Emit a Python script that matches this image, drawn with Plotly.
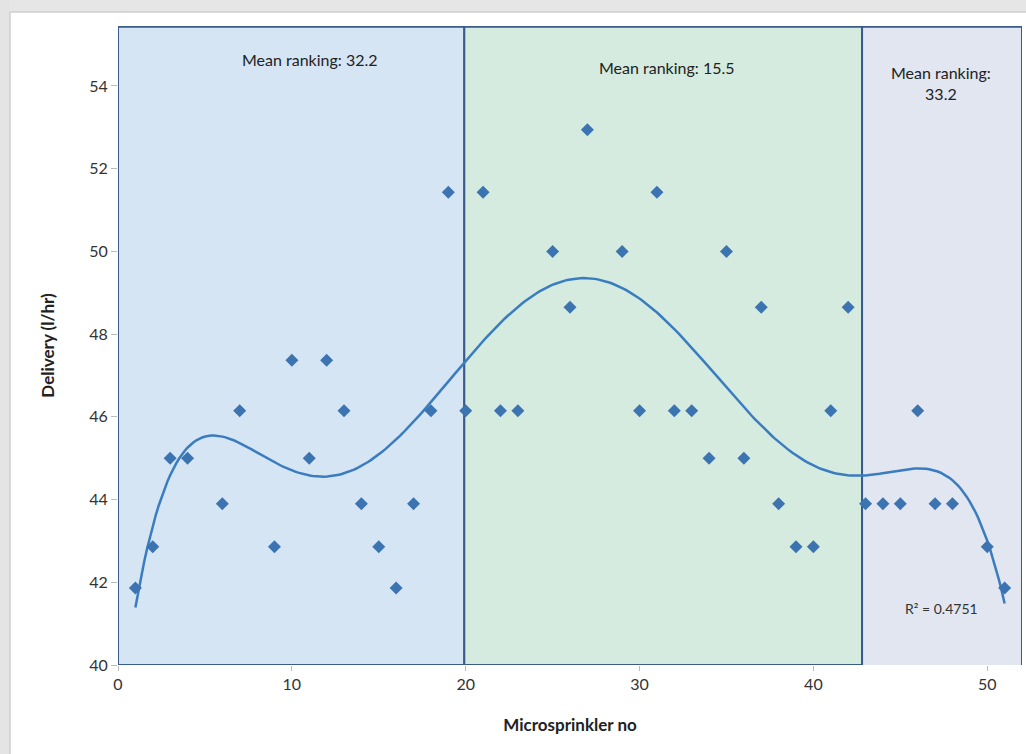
import numpy as np
import plotly.graph_objects as go

# Microsprinkler number and measured delivery (l/hr)
sprinkler_no = [1, 2, 3, 4, 6, 7, 9, 10, 11, 12, 13, 14, 15, 16, 17, 18, 19, 20,
                21, 22, 23, 25, 26, 27, 29, 30, 31, 32, 33, 34, 35, 36, 37, 38, 39,
                40, 41, 42, 43, 44, 45, 46, 47, 48, 50, 51]
delivery = [41.86, 42.86, 45.00, 45.00, 43.90, 46.15, 42.86, 47.37, 45.00, 47.37,
            46.15, 43.90, 42.86, 41.86, 43.90, 46.15, 51.43, 46.15, 51.43, 46.15,
            46.15, 50.00, 48.65, 52.94, 50.00, 46.15, 51.43, 46.15, 46.15, 45.00,
            50.00, 45.00, 48.65, 43.90, 42.86, 42.86, 46.15, 48.65, 43.90, 43.90,
            43.90, 46.15, 43.90, 43.90, 42.86, 41.86]

# Sprinkler groups along the lateral and their mean ranking
region_edges = [0, 19.92, 42.8, 52]
region_labels = ["Mean ranking: 32.2", "Mean ranking: 15.5", "Mean ranking:<br>33.2"]
r_squared_text = "R² = 0.4751"

x_ticks = [0, 10, 20, 30, 40, 50]
y_ticks = [40, 42, 44, 46, 48, 50, 52, 54]

# Sixth-order polynomial trendline
coef = np.polyfit(sprinkler_no, delivery, 6)
x_fit = np.linspace(min(sprinkler_no), max(sprinkler_no), 300)
y_fit = np.polyval(coef, x_fit)

W, H = 1026, 754
L, R, T, B = 118, 4, 26, 89
PW, PH = W - L - R, H - T - B
Y_MAX = 55.45
X_MAX = 52

def px(xp):
    return (xp - L) / PW

def py(yp):
    return (H - B - yp) / PH

fig = go.Figure()

fig.add_trace(go.Scatter(
    x=x_fit, y=y_fit, mode="lines",
    line=dict(color="#3a7cc0", width=2.5),
    hoverinfo="skip", showlegend=False,
))
fig.add_trace(go.Scatter(
    x=sprinkler_no, y=delivery, mode="markers",
    marker=dict(symbol="diamond", size=10, color="#3b74b0"),
    showlegend=False,
))

fills = ["#d5e5f4", "#d5ebdf", "#e1e6f1"]
shapes = []
# page frame: grey band on top and at the left
shapes.append(dict(type="rect", xref="paper", yref="paper",
                   x0=px(0), x1=px(W), y0=py(12), y1=py(0),
                   fillcolor="#e6e6e6", line=dict(width=0), layer="below"))
shapes.append(dict(type="rect", xref="paper", yref="paper",
                   x0=px(0), x1=px(10), y0=py(H), y1=py(0),
                   fillcolor="#e4e4e4", line=dict(width=0), layer="below"))
shapes.append(dict(type="line", xref="paper", yref="paper",
                   x0=px(10), x1=px(W), y0=py(12), y1=py(12),
                   line=dict(color="#cfcfcf", width=1.5), layer="below"))
shapes.append(dict(type="line", xref="paper", yref="paper",
                   x0=px(10), x1=px(10), y0=py(H), y1=py(12),
                   line=dict(color="#cfcfcf", width=1.5), layer="below"))

for i in range(3):
    shapes.append(dict(
        type="rect", xref="x", yref="y",
        x0=region_edges[i], x1=region_edges[i + 1],
        y0=40 if i < 2 else 39.93, y1=Y_MAX - 0.02,
        fillcolor=fills[i], line=dict(color="#3b5b8a", width=2), layer="below",
    ))

annotations = []
label_pos = [(310, 60), (667, 68), (941, 83)]
for (lx, ly), txt in zip(label_pos, region_labels):
    annotations.append(dict(
        xref="paper", yref="paper", x=px(lx), y=py(ly), text=txt,
        showarrow=False, xanchor="center", yanchor="middle",
        font=dict(family="Lato, Open Sans, sans-serif", size=16, color="#222222"),
        align="center",
    ))
annotations.append(dict(
    xref="paper", yref="paper", x=px(941), y=py(608), text=r_squared_text,
    showarrow=False, xanchor="center", yanchor="middle",
    font=dict(family="Lato, Open Sans, sans-serif", size=14, color="#333333"),
))

fig.update_layout(
    width=W, height=H,
    margin=dict(l=L, r=R, t=T, b=B),
    paper_bgcolor="white", plot_bgcolor="white",
    shapes=shapes, annotations=annotations,
    font=dict(family="Lato, Open Sans, sans-serif", color="#333333"),
    xaxis=dict(
        range=[0, X_MAX], tickvals=x_ticks, showgrid=False, zeroline=False,
        ticks="outside", ticklen=5, tickcolor="#bbbbbb",
        tickfont=dict(size=16, color="#333333"),
        title=dict(text="<b>Microsprinkler no</b>", font=dict(size=17, color="#222222"), standoff=26),
        showline=False,
    ),
    yaxis=dict(
        range=[40, Y_MAX], tickvals=y_ticks, showgrid=False, zeroline=False,
        ticks="outside", ticklen=6, tickcolor="#bbbbbb",
        tickfont=dict(size=16, color="#333333"),
        title=dict(text="<b>Delivery (l/hr)</b>", font=dict(size=17, color="#222222"), standoff=30),
        showline=False,
    ),
)

fig.write_html("out.html")
